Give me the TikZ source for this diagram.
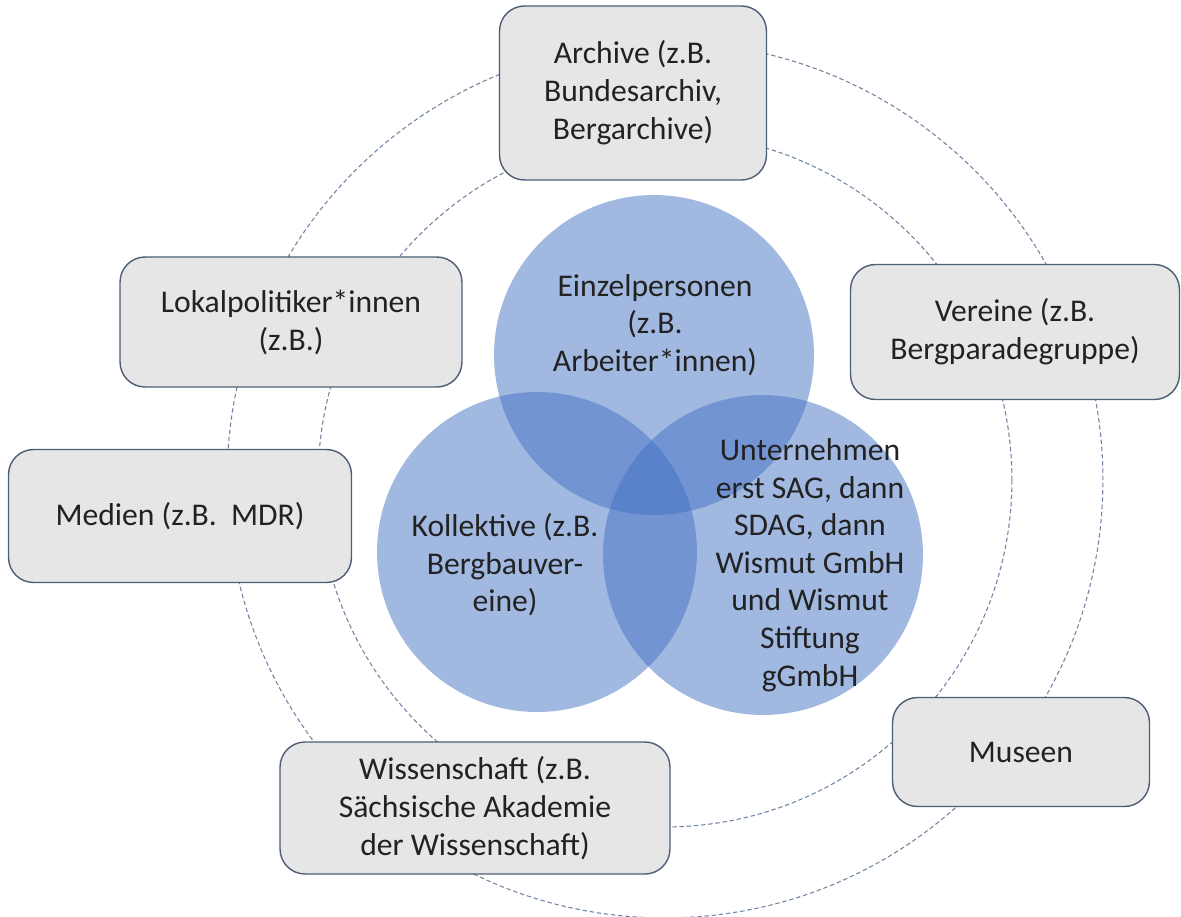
\documentclass[tikz,border=0pt]{standalone}
\usepackage{fontspec}
\setmainfont{Carlito}
\definecolor{kreisblau}{HTML}{4472C4}
\definecolor{ringgrau}{HTML}{6F84A3}
\definecolor{randgrau}{HTML}{4D5E74}
\definecolor{kastengrau}{HTML}{E6E6E7}
\definecolor{schrift}{HTML}{222222}
\begin{document}
        \begin{tikzpicture}[x=0.02cm, y=-0.02cm,
                ring/.style={draw=ringgrau, line width=0.6pt, dash pattern=on 2.5pt off 1.6pt},
                venn/.style={fill=kreisblau, fill opacity=0.5},
                kasten/.style={draw=randgrau, line width=0.8pt, fill=kastengrau, rounded corners=0.5cm,
                    align=center, text=schrift, font=\fontsize{18}{21.6}\selectfont, inner sep=2pt},
                etikett/.style={align=center, text=schrift, font=\fontsize{18}{21.4}\selectfont}]
            \useasboundingbox (0,0) rectangle (1181,917);
            \fill[white] (0,0) rectangle (1181,917);

            % die beiden gestrichelten Ringe
            \draw[ring] (665,480) circle (8.76cm);
            \draw[ring] (665,480) circle (6.94cm);

            % Venn-Diagramm in der Mitte
            \fill[venn] (654,355) circle (3.2cm);
            \fill[venn] (537,552) circle (3.2cm);
            \fill[venn] (763,555) circle (3.2cm);
            \node[etikett] (einzel) at (655,325) {Einzelpersonen\\(z.B.\\Arbeiter*innen)};
            \node[etikett] (kollektiv) at (505,565) {Kollektive (z.B.\\Bergbauver-\\eine)};
            \node[etikett] (firma) at (810,565) {Unternehmen\\erst SAG, dann\\SDAG, dann\\Wismut GmbH\\und Wismut\\Stiftung\\gGmbH};

            % Akteure aussen
            \node[kasten, minimum width=5.34cm, minimum height=3.48cm] (archiv) at (633,93) {Archive (z.B.\\Bundesarchiv,\\Bergarchive)};
            \node[kasten, minimum width=6.84cm, minimum height=2.6cm] (politik) at (291,322) {Lokalpolitiker*innen\\(z.B.)};
            \node[kasten, minimum width=6.58cm, minimum height=2.7cm] (verein) at (1015,332) {Vereine (z.B.\\Bergparadegruppe)};
            \node[kasten, minimum width=6.86cm, minimum height=2.66cm] (medien) at (180,516) {Medien (z.B.\hspace{0.45em}MDR)};
            \node[kasten, minimum width=5.14cm, minimum height=2.18cm] (museen) at (1021,752) {Museen};
            \node[kasten, minimum width=7.8cm, minimum height=2.64cm] (wissen) at (475,808) {Wissenschaft (z.B.\\Sächsische Akademie\\der Wissenschaft)};
        \end{tikzpicture}
\end{document}
